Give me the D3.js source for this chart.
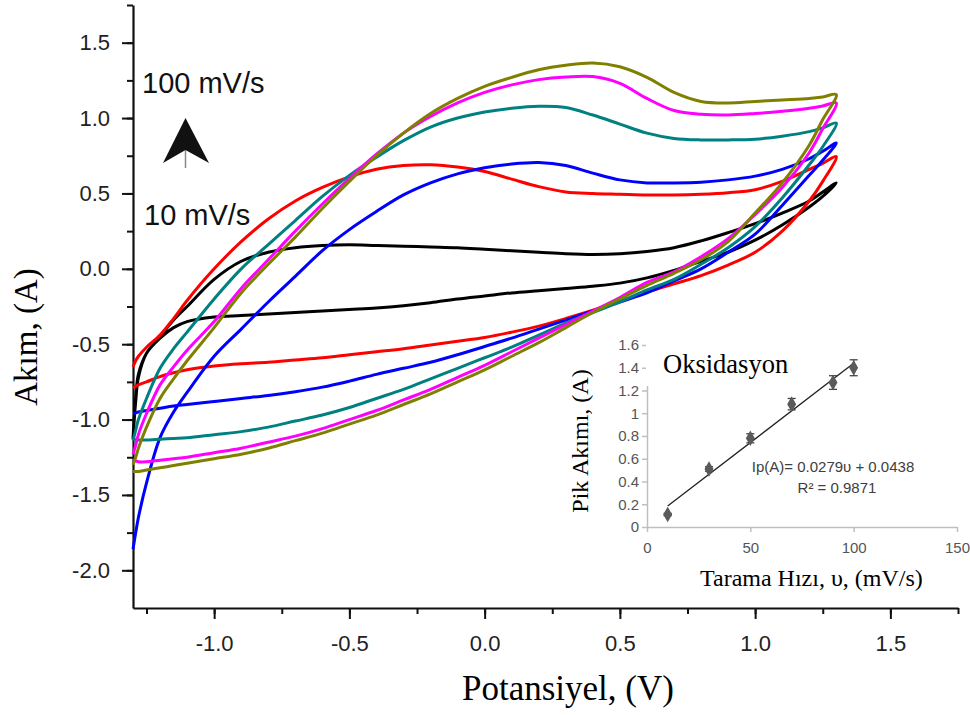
<!DOCTYPE html>
<html>
<head>
<meta charset="utf-8">
<script src="https://cdn.jsdelivr.net/npm/d3@7"></script>
<style>
  body { margin: 0; background: #fff; }
  svg { display: block; }
</style>
</head>
<body>
<div id="chart"></div>
<script>
// potential grid (V) used by every sweep, left vertex -> right vertex
const potential = [-1.3, -1.29, -1.28, -1.25, -1.2, -1.15, -1.1, -1.0, -0.9, -0.8, -0.7, -0.6, -0.5, -0.4,
  -0.3, -0.2, -0.1, 0, 0.1, 0.2, 0.3, 0.4, 0.5, 0.6, 0.7, 0.8, 0.9, 1.0, 1.1, 1.2, 1.25, 1.3];

const scanRates = ["10", "30", "50", "70", "90", "100"];
const curveColors = ["#000000", "#ff0000", "#0000ff", "#008080", "#ff00ff", "#808000"];

// anodic (forward) and cathodic (reverse) currents, A, listed in the order of `potential`
const forward10 = [-1.13, -0.85, -0.70, -0.56, -0.45, -0.34, -0.25, -0.07, 0.05, 0.11, 0.14, 0.155, 0.16, 0.155,
  0.15, 0.145, 0.14, 0.13, 0.12, 0.11, 0.10, 0.095, 0.10, 0.115, 0.14, 0.185, 0.24, 0.30, 0.37, 0.45, 0.51, 0.57];
const reverse10 = [-1.13, -0.88, -0.72, -0.56, -0.46, -0.39, -0.35, -0.32, -0.31, -0.30, -0.29, -0.28, -0.27, -0.26,
  -0.245, -0.225, -0.2, -0.18, -0.16, -0.145, -0.13, -0.115, -0.095, -0.06, -0.01, 0.05, 0.11, 0.19, 0.29, 0.41, 0.48, 0.57];

const forward30 = [-0.65, -0.61, -0.58, -0.52, -0.44, -0.33, -0.21, 0.0, 0.18, 0.33, 0.45, 0.54, 0.61, 0.66,
  0.685, 0.69, 0.675, 0.645, 0.595, 0.545, 0.51, 0.50, 0.495, 0.49, 0.49, 0.495, 0.505, 0.525, 0.58, 0.66, 0.70, 0.745];
const reverse30 = [-0.79, -0.78, -0.77, -0.75, -0.715, -0.69, -0.67, -0.645, -0.63, -0.62, -0.605, -0.59, -0.57, -0.55,
  -0.53, -0.505, -0.48, -0.455, -0.42, -0.38, -0.33, -0.275, -0.215, -0.155, -0.10, -0.045, 0.025, 0.11, 0.25, 0.45, 0.58, 0.745];

const forward50 = [-1.86, -1.75, -1.65, -1.42, -1.12, -0.95, -0.82, -0.58, -0.40, -0.22, -0.05, 0.12, 0.26, 0.38,
  0.49, 0.57, 0.63, 0.67, 0.695, 0.705, 0.685, 0.635, 0.59, 0.57, 0.57, 0.575, 0.59, 0.615, 0.66, 0.73, 0.78, 0.834];
const reverse50 = [-0.96, -0.955, -0.95, -0.94, -0.925, -0.91, -0.90, -0.88, -0.86, -0.84, -0.815, -0.785, -0.745, -0.70,
  -0.66, -0.62, -0.57, -0.515, -0.46, -0.40, -0.34, -0.28, -0.22, -0.16, -0.08, 0.0, 0.11, 0.23, 0.42, 0.62, 0.72, 0.834];

const forward70 = [-1.14, -1.07, -1.0, -0.86, -0.66, -0.53, -0.42, -0.2, 0.0, 0.16, 0.32, 0.48, 0.62, 0.74,
  0.85, 0.94, 1.0, 1.04, 1.065, 1.078, 1.07, 1.02, 0.96, 0.90, 0.865, 0.855, 0.855, 0.86, 0.88, 0.91, 0.935, 0.967];
const reverse70 = [-1.13, -1.133, -1.135, -1.135, -1.13, -1.125, -1.12, -1.10, -1.08, -1.05, -1.01, -0.97, -0.92, -0.86,
  -0.80, -0.73, -0.66, -0.59, -0.52, -0.44, -0.36, -0.29, -0.22, -0.14, -0.07, 0.03, 0.14, 0.28, 0.47, 0.69, 0.81, 0.967];

const forward90 = [-1.23, -1.17, -1.10, -0.96, -0.77, -0.65, -0.54, -0.35, -0.13, 0.06, 0.25, 0.43, 0.60, 0.76,
  0.90, 1.01, 1.10, 1.17, 1.22, 1.255, 1.272, 1.275, 1.23, 1.13, 1.05, 1.025, 1.02, 1.03, 1.045, 1.065, 1.08, 1.10];
const reverse90 = [-1.27, -1.275, -1.28, -1.28, -1.27, -1.26, -1.25, -1.22, -1.19, -1.15, -1.11, -1.06, -1.0, -0.94,
  -0.87, -0.80, -0.72, -0.64, -0.55, -0.46, -0.37, -0.28, -0.19, -0.09, -0.02, 0.08, 0.20, 0.36, 0.54, 0.77, 0.93, 1.10];

const forward100 = [-1.30, -1.25, -1.19, -1.05, -0.86, -0.73, -0.61, -0.39, -0.16, 0.03, 0.21, 0.40, 0.58, 0.75,
  0.90, 1.03, 1.13, 1.21, 1.27, 1.32, 1.35, 1.365, 1.34, 1.27, 1.17, 1.11, 1.10, 1.11, 1.12, 1.13, 1.14, 1.155];
const reverse100 = [-1.345, -1.345, -1.345, -1.335, -1.32, -1.305, -1.29, -1.26, -1.23, -1.19, -1.14, -1.09, -1.03, -0.97,
  -0.90, -0.83, -0.75, -0.67, -0.58, -0.49, -0.39, -0.29, -0.20, -0.11, -0.03, 0.06, 0.18, 0.37, 0.57, 0.82, 0.99, 1.155];

const forwardSweeps = [forward10, forward30, forward50, forward70, forward90, forward100];
const reverseSweeps = [reverse10, reverse30, reverse50, reverse70, reverse90, reverse100];

const xMajorTicks = [-1.0, -0.5, 0.0, 0.5, 1.0, 1.5];
const yMajorTicks = [-2.0, -1.5, -1.0, -0.5, 0.0, 0.5, 1.0, 1.5];

// inset: peak current vs scan rate
const insetRates = [10, 30, 50, 70, 90, 100];
const peakCurrent = [0.11, 0.51, 0.78, 1.08, 1.27, 1.40];
const peakError = [0.01, 0.02, 0.04, 0.05, 0.06, 0.07];
const insetXTicks = [0, 50, 100, 150];
const insetYTicks = [0, 0.2, 0.4, 0.6, 0.8, 1.0, 1.2, 1.4, 1.6];

const W = 970, H = 715;
const svg = d3.select("#chart").append("svg")
  .attr("width", W).attr("height", H)
  .style("font-family", "'Liberation Sans', Arial, sans-serif");

const x = d3.scaleLinear().domain([-1.3, 1.75]).range([133, 958]);
const y = d3.scaleLinear().domain([-2.25, 1.75]).range([608, 5]);

const fmt = d => d.toFixed(1);

// minor ticks
svg.append("g")
  .attr("transform", "translate(0,608)")
  .call(d3.axisBottom(x).tickValues(d3.range(-1.25, 1.76, 0.25)).tickSize(6).tickFormat(""))
  .call(g => g.select(".domain").remove());
svg.append("g")
  .attr("transform", "translate(133,0)")
  .call(d3.axisLeft(y).tickValues(d3.range(-2.0, 1.76, 0.25)).tickSize(6).tickFormat(""))
  .call(g => g.select(".domain").remove());

// major axes
svg.append("g")
  .attr("transform", "translate(0,608)")
  .call(d3.axisBottom(x).tickValues(xMajorTicks).tickSize(11).tickSizeOuter(0).tickPadding(16).tickFormat(fmt));
svg.append("g")
  .attr("transform", "translate(133,0)")
  .call(d3.axisLeft(y).tickValues(yMajorTicks).tickSize(11).tickSizeOuter(0).tickPadding(12).tickFormat(fmt));

svg.selectAll(".tick line").attr("stroke", "#111").attr("stroke-width", 2);
svg.selectAll(".domain").attr("stroke", "#111").attr("stroke-width", 2.2);
svg.selectAll(".tick text")
  .attr("fill", "#222")
  .style("font-family", "'Liberation Sans', Arial, sans-serif")
  .style("font-size", "22px");

// CV curves
const line = d3.line()
  .x(d => x(d[0]))
  .y(d => y(d[1]))
  .curve(d3.curveCatmullRom.alpha(0.5));

scanRates.forEach((rate, i) => {
  const fwd = potential.map((v, k) => [v, forwardSweeps[i][k]]);
  const rev = potential.map((v, k) => [v, reverseSweeps[i][k]]).reverse().slice(1);
  svg.append("path")
    .datum(fwd.concat(rev))
    .attr("class", "cv cv-" + rate)
    .attr("fill", "none")
    .attr("stroke", curveColors[i])
    .attr("stroke-width", 3)
    .attr("stroke-linejoin", "round")
    .attr("d", line);
});

// scan-rate annotation
svg.append("text").attr("x", 142).attr("y", 93)
  .style("font-size", "29px").attr("fill", "#111").text("100 mV/s");
svg.append("text").attr("x", 144).attr("y", 225)
  .style("font-size", "29px").attr("fill", "#111").text("10 mV/s");
svg.append("line").attr("x1", 185.5).attr("x2", 185.5).attr("y1", 148).attr("y2", 168)
  .attr("stroke", "#888").attr("stroke-width", 1.5);
svg.append("path")
  .attr("d", "M185.5,118 L209,163 L185.5,150 L163,163 Z")
  .attr("fill", "#111");

// axis titles
svg.append("text")
  .attr("transform", "translate(37,337) rotate(-90)")
  .attr("text-anchor", "middle")
  .style("font-family", "'Liberation Serif', 'Times New Roman', serif")
  .style("font-size", "33px")
  .text("Akım, (A)");
svg.append("text")
  .attr("x", 462).attr("y", 700)
  .style("font-family", "'Liberation Serif', 'Times New Roman', serif")
  .style("font-size", "35px")
  .text("Potansiyel, (V)");

// ---------- inset ----------
const ix = d3.scaleLinear().domain([0, 150]).range([647, 957]);
const iy = d3.scaleLinear().domain([0, 1.6]).range([527, 345]);
const inset = svg.append("g").attr("class", "inset");

const insetGrey = "#bfbfbf";
inset.append("g")
  .attr("transform", "translate(0,527)")
  .call(d3.axisBottom(ix).tickValues(insetXTicks).tickSize(5).tickSizeOuter(0).tickPadding(10))
  .call(g => g.selectAll("text").style("font-size", "15px").attr("fill", "#555"));
inset.append("g")
  .attr("transform", "translate(647,0)")
  .call(d3.axisLeft(iy).tickValues(insetYTicks).tickSize(5).tickSizeOuter(0).tickPadding(3)
    .tickFormat(d => d === 0 ? "0" : d === 1 ? "1" : String(+d.toFixed(1))))
  .call(g => g.selectAll("text").style("font-size", "15px").attr("fill", "#555"));
inset.selectAll(".domain, .tick line").attr("stroke", insetGrey).attr("stroke-width", 1.5);

// white box behind the title covers the top of the inset axis
inset.append("rect").attr("x", 646).attr("y", 338).attr("width", 150).attr("height", 48).attr("fill", "#fff");
inset.append("text").attr("x", 663).attr("y", 373)
  .style("font-family", "'Liberation Serif', 'Times New Roman', serif")
  .style("font-size", "26.5px").text("Oksidasyon");

// least-squares trendline through the peaks
const mx = d3.mean(insetRates), my = d3.mean(peakCurrent);
const slope = d3.sum(insetRates, (v, k) => (v - mx) * (peakCurrent[k] - my)) /
              d3.sum(insetRates, v => (v - mx) * (v - mx));
const intercept = my - slope * mx;
const trendX = d3.extent(insetRates);
inset.append("line")
  .attr("x1", ix(trendX[0])).attr("y1", iy(intercept + slope * trendX[0]))
  .attr("x2", ix(trendX[1])).attr("y2", iy(intercept + slope * trendX[1]))
  .attr("stroke", "#222").attr("stroke-width", 1.3);

const pts = insetRates.map((r, k) => ({ r, c: peakCurrent[k], e: peakError[k] }));
const bars = inset.selectAll(".err").data(pts).enter().append("g").attr("class", "err")
  .attr("stroke", "#444").attr("stroke-width", 1.3);
bars.append("line")
  .attr("x1", d => ix(d.r)).attr("x2", d => ix(d.r))
  .attr("y1", d => iy(d.c - d.e)).attr("y2", d => iy(d.c + d.e));
bars.append("line")
  .attr("x1", d => ix(d.r) - 4).attr("x2", d => ix(d.r) + 4)
  .attr("y1", d => iy(d.c + d.e)).attr("y2", d => iy(d.c + d.e));
bars.append("line")
  .attr("x1", d => ix(d.r) - 4).attr("x2", d => ix(d.r) + 4)
  .attr("y1", d => iy(d.c - d.e)).attr("y2", d => iy(d.c - d.e));
inset.selectAll(".pt").data(pts).enter().append("path")
  .attr("class", "pt")
  .attr("transform", d => `translate(${ix(d.r)},${iy(d.c)})`)
  .attr("d", d3.symbol(d3.symbolDiamond).size(70))
  .attr("fill", "#5a5a5a");

inset.append("text").attr("x", 833).attr("y", 472).attr("text-anchor", "middle")
  .style("font-size", "15px").attr("fill", "#404040").text("Ip(A)= 0.0279υ + 0.0438");
inset.append("text").attr("x", 837).attr("y", 493).attr("text-anchor", "middle")
  .style("font-size", "15px").attr("fill", "#404040").text("R² = 0.9871");

inset.append("text")
  .attr("transform", "translate(588,441) rotate(-90)")
  .attr("text-anchor", "middle")
  .style("font-family", "'Liberation Serif', 'Times New Roman', serif")
  .style("font-size", "24px").text("Pik Akımı, (A)");
inset.append("text").attr("x", 700).attr("y", 586)
  .style("font-family", "'Liberation Serif', 'Times New Roman', serif")
  .style("font-size", "24px").text("Tarama Hızı, υ, (mV/s)");
</script>
</body>
</html>
